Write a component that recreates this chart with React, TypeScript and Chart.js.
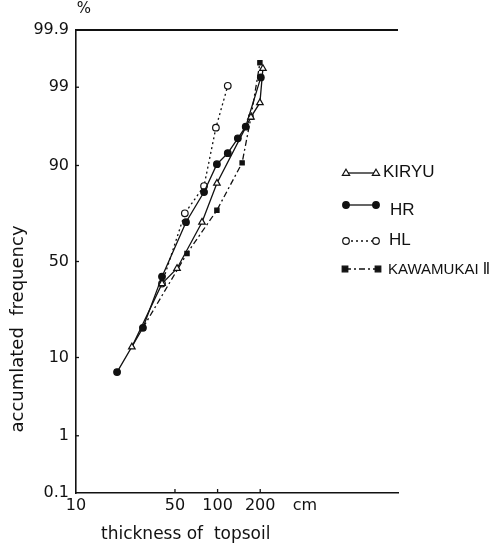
import React, { useEffect, useRef } from "react";
import { Chart, registerables } from "chart.js";

Chart.register(...registerables);

// ---------- data ----------
const yTickValues = [0.1, 1, 10, 50, 90, 99, 99.9];
const yTickLabels = ["0.1", "1", "10", "50", "90", "99", "99.9"];
const xTickValues = [10, 50, 100, 200];
const xTickLabels = ["10", "50", "100", "200"];
const xUnitLabel = "cm";
const xUnitPos = 414;

const kiryuX = [24.8, 40.5, 51.7, 77.6, 98.9, 172, 199, 209];
const kiryuY = [12.7, 38.4, 46.3, 70.0, 85.2, 97.3, 98.3, 99.5];

const hrX = [19.5, 29.7, 40.5, 59.8, 80.2, 98.9, 118, 139, 158, 202];
const hrY = [7.0, 18.8, 42.0, 70.0, 82.3, 90.3, 92.6, 95.0, 96.4, 99.3];

const hlX = [40.5, 58.7, 80.2, 97.3, 118];
const hlY = [38.4, 74.0, 84.3, 96.3, 99.05];

const kawX = [29.7, 60.8, 98.9, 149, 172, 199];
const kawY = [18.8, 54.3, 75.3, 90.6, 97.3, 99.6];

const seriesNames = ["KIRYU", "HR", "HL", "KAWAMUKAI \u2161"];

// inverse normal CDF (Acklam)
function probit(p: number): number {
  const a = [-3.969683028665376e1, 2.209460984245205e2, -2.759285104469687e2, 1.38357751867269e2, -3.066479806614716e1, 2.506628277459239];
  const b = [-5.447609879822406e1, 1.615858368580409e2, -1.556989798598866e2, 6.680131188771972e1, -1.328068155288572e1];
  const c = [-7.784894002430293e-3, -3.223964580411365e-1, -2.400758277161838, -2.549732539343734, 4.374664141464968, 2.938163982698783];
  const d = [7.784695709041462e-3, 3.224671290700398e-1, 2.445134137142996, 3.754408661907416];
  const pl = 0.02425;
  let q: number, r: number;
  if (p < pl) {
    q = Math.sqrt(-2 * Math.log(p));
    return (((((c[0] * q + c[1]) * q + c[2]) * q + c[3]) * q + c[4]) * q + c[5]) / ((((d[0] * q + d[1]) * q + d[2]) * q + d[3]) * q + 1);
  }
  if (p <= 1 - pl) {
    q = p - 0.5;
    r = q * q;
    return ((((((a[0] * r + a[1]) * r + a[2]) * r + a[3]) * r + a[4]) * r + a[5]) * q) / (((((b[0] * r + b[1]) * r + b[2]) * r + b[3]) * r + b[4]) * r + 1);
  }
  q = Math.sqrt(-2 * Math.log(1 - p));
  return -(((((c[0] * q + c[1]) * q + c[2]) * q + c[3]) * q + c[4]) * q + c[5]) / ((((d[0] * q + d[1]) * q + d[2]) * q + d[3]) * q + 1);
}

const INK = "#111";
const TICK_FONT = '"DejaVu Sans", sans-serif';

function drawMarker(ctx: CanvasRenderingContext2D, style: string, x: number, y: number, r: number, filled: boolean) {
  ctx.save();
  ctx.setLineDash([]);
  ctx.lineWidth = 1.2;
  ctx.strokeStyle = INK;
  ctx.fillStyle = filled ? INK : "#fff";
  ctx.beginPath();
  if (style === "circle") {
    ctx.arc(x, y, r, 0, Math.PI * 2);
  } else if (style === "rect") {
    ctx.rect(x - r, y - r, 2 * r, 2 * r);
  } else if (style === "triangle") {
    ctx.moveTo(x, y - r);
    ctx.lineTo(x + r * 0.95, y + r * 0.6);
    ctx.lineTo(x - r * 0.95, y + r * 0.6);
    ctx.closePath();
  }
  ctx.fill();
  ctx.stroke();
  ctx.restore();
}

const overlayPlugin = {
  id: "overlay",
  afterDraw(chart: any) {
    const ctx: CanvasRenderingContext2D = chart.ctx;
    const { left, right, top, bottom } = chart.chartArea;
    const xs = chart.scales.x;
    const ys = chart.scales.y;
    ctx.save();
    // top frame line
    ctx.strokeStyle = INK;
    ctx.lineWidth = 2;
    ctx.beginPath();
    ctx.moveTo(left, top);
    ctx.lineTo(right, top);
    ctx.stroke();
    // inward tick marks
    ctx.lineWidth = 1.3;
    [1, 10, 50, 90, 99].forEach((p) => {
      const y = ys.getPixelForValue(probit(p / 100));
      ctx.beginPath();
      ctx.moveTo(left, y);
      ctx.lineTo(left + 3, y);
      ctx.stroke();
    });
    [50, 100, 200].forEach((v) => {
      const x = xs.getPixelForValue(v);
      ctx.beginPath();
      ctx.moveTo(x, bottom);
      ctx.lineTo(x, bottom - 4);
      ctx.stroke();
    });
    // texts
    ctx.fillStyle = INK;
    ctx.font = '15px "DejaVu Sans", sans-serif';
    ctx.textAlign = "center";
    ctx.textBaseline = "middle";
    ctx.fillText("%", 84, 9);

    ctx.font = '17px "DejaVu Sans", sans-serif';
    ctx.textAlign = "left";
    ctx.fillText("thickness of  topsoil", 101, 535);

    ctx.save();
    ctx.translate(18, 329);
    ctx.rotate(-Math.PI / 2);
    ctx.textAlign = "center";
    ctx.font = '18px "DejaVu Sans", sans-serif';
    ctx.fillText("accumlated  frequency", 0, 0);
    ctx.restore();

    // legend
    const items = [
      { name: seriesNames[0], style: "triangle", filled: false, dash: [] as number[], ly: 173, x0: 346, x1: 376, tx: 383, ty: 172, r: 3.8, fs: 17 },
      { name: seriesNames[1], style: "circle", filled: true, dash: [] as number[], ly: 205, x0: 346, x1: 376, tx: 390, ty: 210, r: 3.3, fs: 17 },
      { name: seriesNames[2], style: "circle", filled: false, dash: [2, 3], ly: 241, x0: 346, x1: 376, tx: 389, ty: 240, r: 3.3, fs: 17 },
      { name: seriesNames[3], style: "rect", filled: true, dash: [6, 3, 2, 3], ly: 269, x0: 345, x1: 378, tx: 388, ty: 270, r: 2.8, fs: 15 },
    ];
    items.forEach((it) => {
      ctx.save();
      ctx.strokeStyle = INK;
      ctx.lineWidth = 1.3;
      ctx.setLineDash(it.dash);
      ctx.beginPath();
      ctx.moveTo(it.x0, it.ly);
      ctx.lineTo(it.x1, it.ly);
      ctx.stroke();
      ctx.restore();
      drawMarker(ctx, it.style, it.x0, it.ly, it.r, it.filled);
      drawMarker(ctx, it.style, it.x1, it.ly, it.r, it.filled);
      ctx.fillStyle = INK;
      ctx.font = `${it.fs}px "Liberation Sans", "DejaVu Sans", sans-serif`;
      ctx.textAlign = "left";
      ctx.textBaseline = "middle";
      ctx.fillText(it.name, it.tx, it.ty);
    });
    ctx.restore();
  },
};

export default function App() {
  const canvasRef = useRef<HTMLCanvasElement | null>(null);

  useEffect(() => {
    if (!canvasRef.current) return;
    const mk = (xv: number[], yv: number[]) => xv.map((x, i) => ({ x, y: probit(yv[i] / 100) }));
    const base = {
      borderColor: INK,
      borderWidth: 1.3,
      pointBorderColor: INK,
      pointBorderWidth: 1.2,
      showLine: true,
      fill: false,
      tension: 0,
    };
    const chart = new Chart(canvasRef.current, {
      type: "scatter",
      data: {
        datasets: [
          { ...base, label: seriesNames[0], data: mk(kiryuX, kiryuY), pointStyle: "triangle", pointRadius: 3.8, pointBackgroundColor: "#fff", borderDash: [] },
          { ...base, label: seriesNames[1], data: mk(hrX, hrY), pointStyle: "circle", pointRadius: 3.3, pointBackgroundColor: INK, borderDash: [] },
          { ...base, label: seriesNames[2], data: mk(hlX, hlY), pointStyle: "circle", pointRadius: 3.3, pointBackgroundColor: "#fff", borderDash: [2, 3] },
          { ...base, label: seriesNames[3], data: mk(kawX, kawY), pointStyle: "rect", pointRadius: 3, pointBackgroundColor: INK, borderDash: [6, 3, 2, 3] },
        ],
      } as any,
      options: {
        responsive: false,
        animation: false,
        events: [],
        layout: { padding: { top: 30, right: 99, bottom: 0, left: 0 } },
        plugins: { legend: { display: false }, tooltip: { enabled: false }, title: { display: false } },
        scales: {
          x: {
            type: "logarithmic",
            position: "bottom",
            min: 10,
            max: 1880,
            grid: { display: false, drawTicks: false },
            border: { display: true, color: INK, width: 1.6 },
            ticks: {
              autoSkip: false,
              maxRotation: 0,
              padding: 3,
              color: INK,
              font: { family: TICK_FONT, size: 16 },
              callback: (v: any) => {
                const i = xTickValues.indexOf(Number(v));
                if (i >= 0) return xTickLabels[i];
                if (Number(v) === xUnitPos) return xUnitLabel;
                return "";
              },
            },
            afterBuildTicks: (s: any) => {
              s.ticks = [...xTickValues, xUnitPos].map((v) => ({ value: v }));
            },
            afterFit: (s: any) => {
              s.height = 55;
            },
          },
          y: {
            type: "linear",
            min: probit(0.001),
            max: probit(0.999),
            grid: { display: false, drawTicks: false },
            border: { display: true, color: INK, width: 1.6 },
            ticks: {
              autoSkip: false,
              padding: 7,
              color: INK,
              font: { family: TICK_FONT, size: 16 },
              callback: (_v: any, i: number) => yTickLabels[i],
            },
            afterBuildTicks: (s: any) => {
              s.ticks = yTickValues.map((p) => ({ value: probit(p / 100) }));
            },
            afterFit: (s: any) => {
              s.width = 76;
            },
          },
        },
      } as any,
      plugins: [overlayPlugin],
    });
    return () => chart.destroy();
  }, []);

  return (
    <div style={{ position: "fixed", left: 0, top: 0, width: 497, height: 548, background: "#fff" }}>
      <canvas ref={canvasRef} width={497} height={548} style={{ display: "block" }} />
    </div>
  );
}
